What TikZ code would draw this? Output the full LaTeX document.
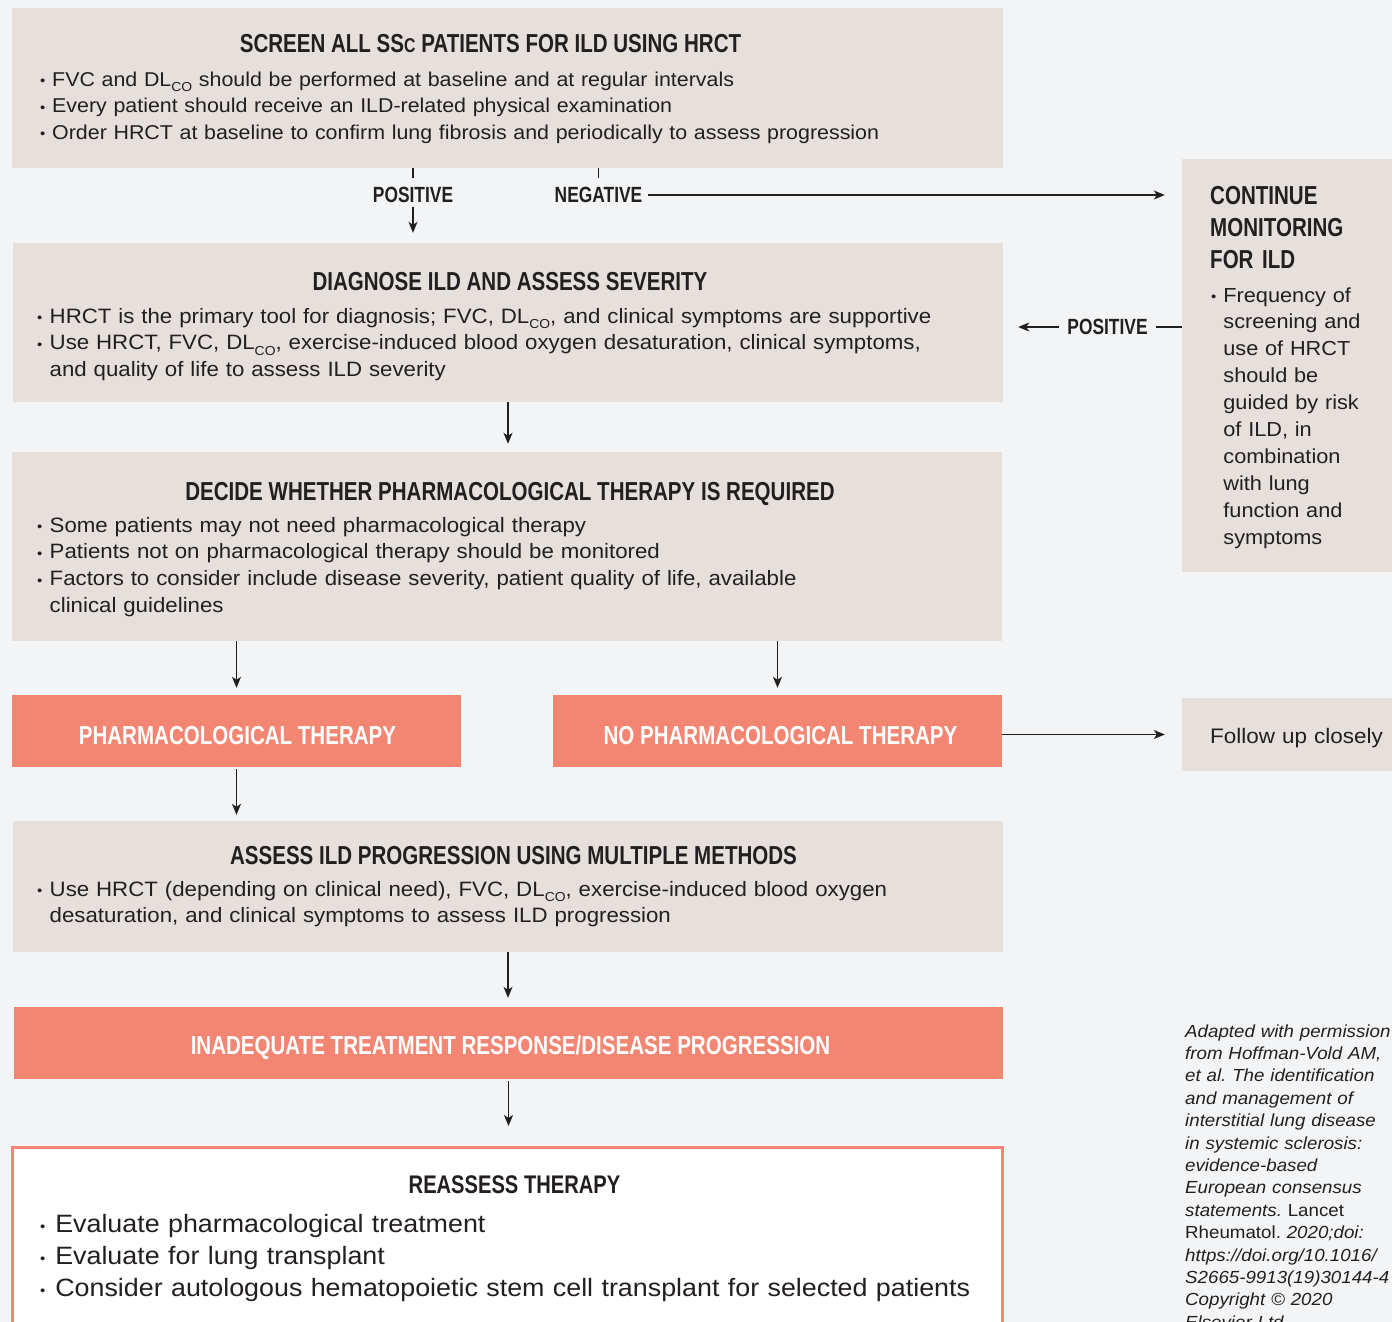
\documentclass[tikz,border=0pt]{standalone}
\usepackage{fontspec}
\setmainfont{Liberation Sans}
\newfontfamily\hfont[FakeStretch=0.79]{Liberation Sans}
\newfontfamily\wfont[FakeStretch=1.07]{Liberation Sans}
\usetikzlibrary{arrows.meta,fit}
\definecolor{bg}{HTML}{F3F4F5}
\definecolor{boxc}{HTML}{E5E0DC}
\definecolor{salm}{HTML}{F28672}
\definecolor{ink}{HTML}{231F20}
\newcommand{\dlco}{DL\raisebox{-5.5pt}{\fontsize{13}{13}\selectfont CO}}
\newcommand{\bl}{\makebox[0.6em][l]{\raisebox{0.5pt}{\fontsize{14}{14}\selectfont\textbullet}}}
\newcommand{\ind}{\hspace*{0.6em}}
\begin{document}
\frenchspacing
\begin{tikzpicture}[x=1pt,y=-1pt,
  box/.style={fill=boxc, draw=none, inner sep=0pt},
  sbox/.style={fill=salm, draw=none, inner sep=0pt},
  ttl/.style={font={\hfont\bfseries\fontsize{26}{32}\selectfont}, text=ink, inner sep=0pt, anchor=base},
  wttl/.style={ttl, text=white},
  body/.style={font={\wfont\fontsize{20}{26.6}\selectfont}, text=ink, inner sep=0pt, anchor=base west, text width=980pt, align=left},
  bodyb/.style={body, font={\wfont\fontsize{20.8}{26.8}\selectfont}},
  lbl/.style={font={\hfont\bfseries\fontsize{22}{24}\selectfont}, text=ink, inner xsep=6pt, inner ysep=2pt},
  arr/.style={-{Stealth[length=11pt,width=9pt,inset=3pt]}, line width=1.3pt, draw=ink},
  ln/.style={line width=1.3pt, draw=ink}]
\clip (0,0) rectangle (1392,1322);
\fill[bg] (0,0) rectangle (1392,1322);

% boxes
\node[box, fit={(12,8) (1003,168)}] (b1) {};
\node[box, fit={(13,243) (1003,402)}] (b2) {};
\node[box, fit={(12,452) (1002,641)}] (b3) {};
\node[sbox, fit={(12,695) (461,767)}] (pt) {};
\node[sbox, fit={(553,695) (1002,767)}] (npt) {};
\node[box, fit={(13,821) (1003,952)}] (b4) {};
\node[sbox, fit={(14,1007) (1003,1079)}] (b5) {};
\node[fill=white, draw=salm, line width=3pt, inner sep=0pt, fit={(12.5,1147.5) (1002,1345)}] (b6) {};
\node[box, fit={(1182,159) (1395,572)}] (cont) {};
\node[box, fit={(1182,698) (1395,771)}] (fol) {};

% box 1
\node[ttl] (t1) at (490.5,53) {SCREEN ALL SS{\fontsize{20}{20}\selectfont C} PATIENTS FOR ILD USING HRCT};
\node[body] (x1) at (40,86) {\bl FVC and \dlco{} should be performed at baseline and at regular intervals\\
\bl Every patient should receive an ILD-related physical examination\\
\bl Order HRCT at baseline to confirm lung fibrosis and periodically to assess progression};

% box 2
\node[ttl] (t2) at (510,290) {DIAGNOSE ILD AND ASSESS SEVERITY};
\node[bodyb] (x2) at (37,323) {\bl HRCT is the primary tool for diagnosis; FVC, \dlco, and clinical symptoms are supportive\\
\bl Use HRCT, FVC, \dlco, exercise-induced blood oxygen desaturation, clinical symptoms,\\
\ind and quality of life to assess ILD severity};

% box 3
\node[ttl] (t3) at (510,500) {DECIDE WHETHER PHARMACOLOGICAL THERAPY IS REQUIRED};
\node[bodyb] (x3) at (37,532) {\bl Some patients may not need pharmacological therapy\\
\bl Patients not on pharmacological therapy should be monitored\\
\bl Factors to consider include disease severity, patient quality of life, available\\
\ind clinical guidelines};

% salmon boxes
\node[wttl] (t4) at (237.5,744) {PHARMACOLOGICAL THERAPY};
\node[wttl] (t5) at (780.5,744) {NO PHARMACOLOGICAL THERAPY};

% box 4
\node[ttl] (t6) at (513.5,864) {ASSESS ILD PROGRESSION USING MULTIPLE METHODS};
\node[bodyb] (x6) at (37,896) {\bl Use HRCT (depending on clinical need), FVC, \dlco, exercise-induced blood oxygen\\
\ind desaturation, and clinical symptoms to assess ILD progression};

% box 5
\node[wttl] (t7) at (510.5,1054) {INADEQUATE TREATMENT RESPONSE/DISEASE PROGRESSION};

% box 6
\node[ttl, font={\hfont\bfseries\fontsize{25.5}{28}\selectfont}] (t8) at (514.5,1193) {REASSESS THERAPY};
\node[body, font={\wfont\fontsize{25.1}{32}\selectfont}] (x8) at (40,1232) {\bl Evaluate pharmacological treatment\\
\bl Evaluate for lung transplant\\
\bl Consider autologous hematopoietic stem cell transplant for selected patients};

% continue box
\node[ttl, anchor=base west, align=left, text width=180pt] (t9) at (1210,204) {CONTINUE\\MONITORING\\FOR ILD};
\node[body, text width=180pt, font={\wfont\fontsize{20.3}{26.9}\selectfont}] (x9) at (1211,302) {\bl Frequency of\\
\ind screening and\\ \ind use of HRCT\\ \ind should be\\ \ind guided by risk\\ \ind of ILD, in\\
\ind combination\\ \ind with lung\\ \ind function and\\ \ind symptoms};

% follow box
\node[body, text width=200pt, font={\wfont\fontsize{21}{26}\selectfont}] (x10) at (1210,743) {Follow up closely};

% citation
\node[body, text width=220pt, font={\wfont\itshape\fontsize{17.5}{22.4}\selectfont}] (cit) at (1185,1037) {Adapted with permission\\
from Hoffman-Vold AM,\\ et al. The identification\\ and management of\\ interstitial lung disease\\
in systemic sclerosis:\\ evidence-based\\ European consensus\\ statements. {\upshape Lancet}\\
{\upshape Rheumatol.} 2020;doi:\\ https://doi.org/10.1016/\\ S2665-9913(19)30144-4\\ Copyright \textcopyright{} 2020\\ Elsevier Ltd.};

% labels
\node[lbl] (pos1) at (413,195) {POSITIVE};
\node[lbl] (neg) at (598.5,195) {NEGATIVE};
\node[lbl, inner xsep=8pt] (pos2) at (1107.5,327) {POSITIVE};

% connectors
\draw[ln, shorten >=7pt] (pos1.north |- b1.south) -- (pos1.north);
\draw[arr, shorten >=10pt, shorten <=2pt] (pos1.south) -- (pos1.south |- b2.north);
\draw[ln, shorten >=7pt] (neg.north |- b1.south) -- (neg.north);
\draw[arr, shorten >=17pt] (neg.east) -- (neg.east -| cont.west);
\draw[ln] (pos2.east -| cont.west) -- (pos2.east);
\draw[arr, shorten >=15pt] (pos2.west) -- (pos2.west -| b2.east);
\draw[arr, shorten >=8pt] (b2.south) -- (b2.south |- b3.north);
\draw[arr, shorten >=7pt] (pt.north |- b3.south) -- (pt.north);
\draw[arr, shorten >=7pt] (npt.north |- b3.south) -- (npt.north);
\draw[arr, shorten >=17pt] (npt.east |- fol.west) -- (fol.west);
\draw[arr, shorten >=6pt, shorten <=2pt] (pt.south) -- (pt.south |- b4.north);
\draw[arr, shorten >=9pt] (b4.south) -- (b4.south |- b5.north);
\draw[arr, shorten >=20pt, shorten <=2pt] (b5.south) -- (b5.south |- b6.north);
\end{tikzpicture}
\end{document}
